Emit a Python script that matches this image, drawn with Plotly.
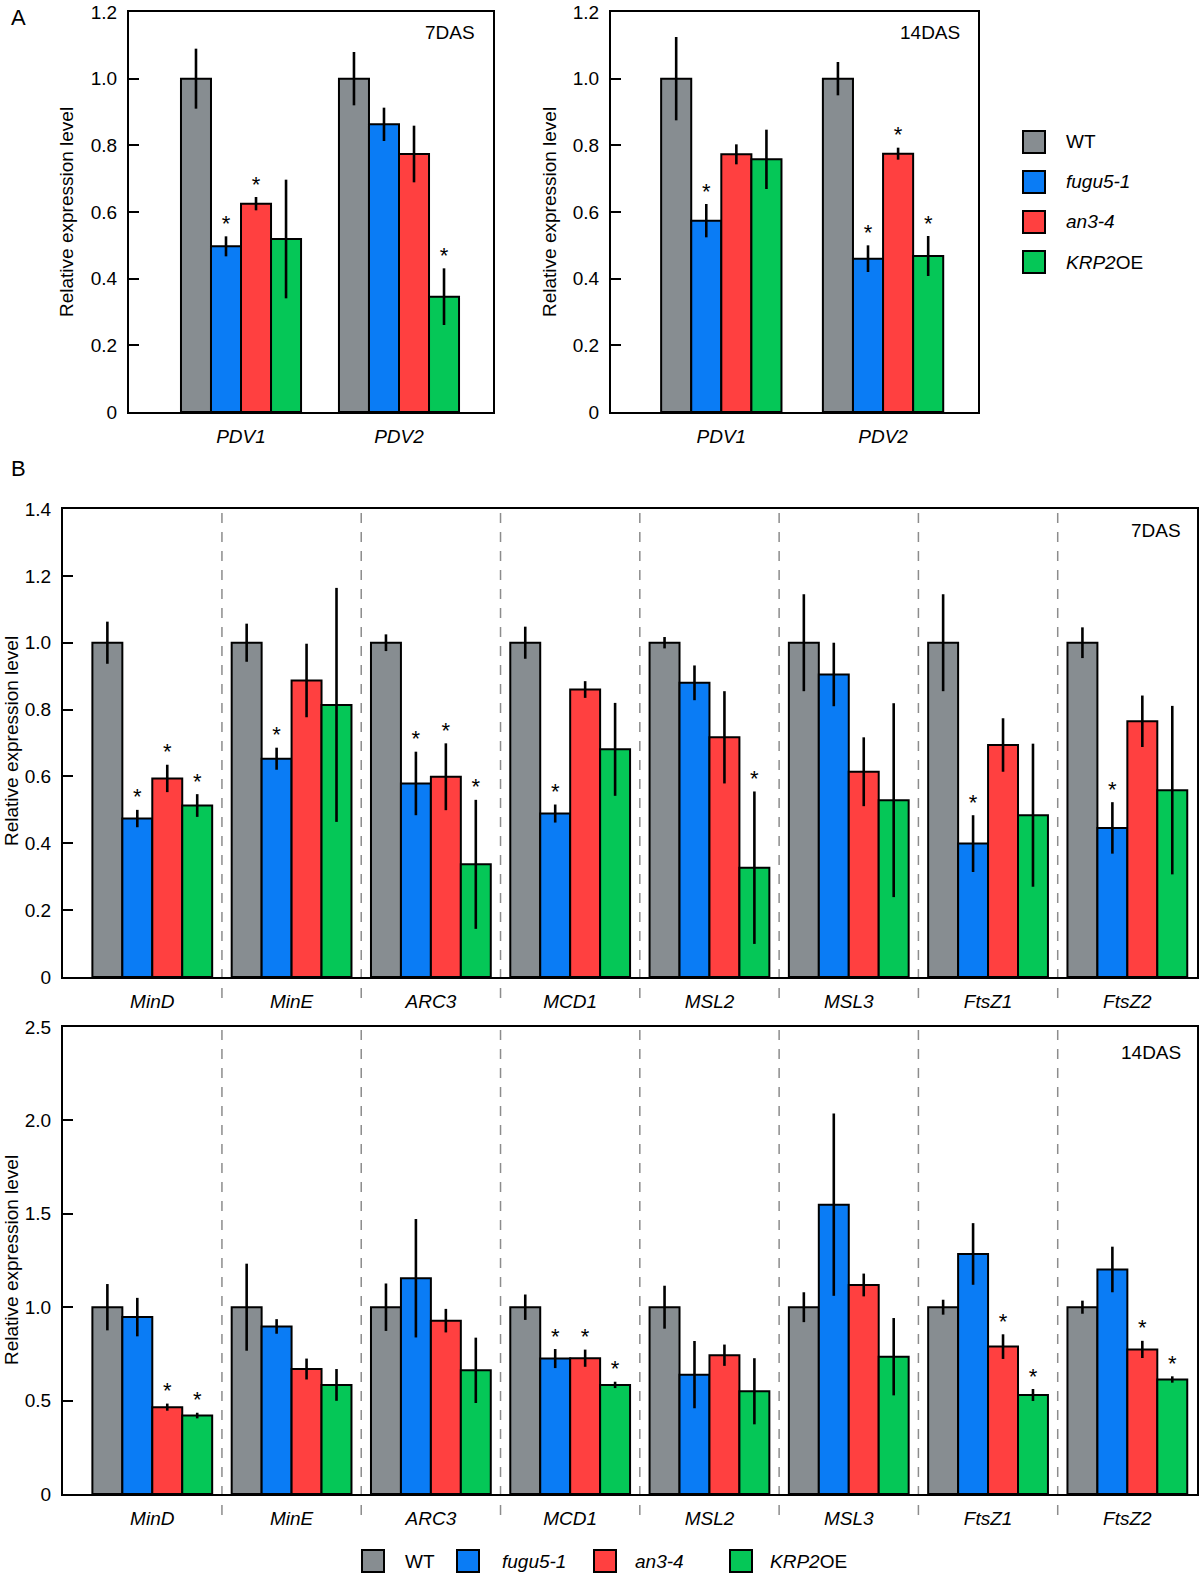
import plotly.graph_objects as go

# ---------------- data ----------------
genotypes = ["WT", "fugu5-1", "an3-4", "KRP2OE"]
legend_labels = ["WT", "<i>fugu5-1</i>", "<i>an3-4</i>", "<i>KRP2</i>OE"]
colors = ["#878D91", "#0A7CF5", "#FF4040", "#05C757"]

pdv_genes = ["PDV1", "PDV2"]
div_genes = ["MinD", "MinE", "ARC3", "MCD1", "MSL2", "MSL3", "FtsZ1", "FtsZ2"]

# Panel A, 7DAS
a7_mean = {"WT": [1.0, 1.0], "fugu5-1": [0.497, 0.863], "an3-4": [0.625, 0.774], "KRP2OE": [0.519, 0.346]}
a7_err = {"WT": [0.09, 0.08], "fugu5-1": [0.03, 0.05], "an3-4": [0.02, 0.085], "KRP2OE": [0.178, 0.085]}
a7_sig = {"WT": [0, 0], "fugu5-1": [1, 0], "an3-4": [1, 0], "KRP2OE": [0, 1]}

# Panel A, 14DAS
a14_mean = {"WT": [1.0, 1.0], "fugu5-1": [0.574, 0.46], "an3-4": [0.773, 0.775], "KRP2OE": [0.758, 0.468]}
a14_err = {"WT": [0.125, 0.05], "fugu5-1": [0.05, 0.04], "an3-4": [0.03, 0.018], "KRP2OE": [0.089, 0.06]}
a14_sig = {"WT": [0, 0], "fugu5-1": [1, 1], "an3-4": [0, 1], "KRP2OE": [0, 1]}

# Panel B, 7DAS
b7_mean = {
    "WT":      [1.0, 1.0, 1.0, 1.0, 1.0, 1.0, 1.0, 1.0],
    "fugu5-1": [0.474, 0.653, 0.579, 0.489, 0.88, 0.905, 0.399, 0.446],
    "an3-4":   [0.594, 0.887, 0.599, 0.86, 0.717, 0.614, 0.694, 0.765],
    "KRP2OE":  [0.513, 0.814, 0.337, 0.681, 0.327, 0.529, 0.484, 0.559],
}
b7_err = {
    "WT":      [0.063, 0.057, 0.025, 0.048, 0.017, 0.145, 0.145, 0.046],
    "fugu5-1": [0.026, 0.033, 0.095, 0.027, 0.052, 0.095, 0.085, 0.077],
    "an3-4":   [0.041, 0.11, 0.1, 0.025, 0.138, 0.103, 0.08, 0.077],
    "KRP2OE":  [0.034, 0.35, 0.193, 0.139, 0.228, 0.29, 0.214, 0.252],
}
b7_sig = {
    "WT":      [0, 0, 0, 0, 0, 0, 0, 0],
    "fugu5-1": [1, 1, 1, 1, 0, 0, 1, 1],
    "an3-4":   [1, 0, 1, 0, 0, 0, 0, 0],
    "KRP2OE":  [1, 0, 1, 0, 1, 0, 0, 0],
}

# Panel B, 14DAS
b14_mean = {
    "WT":      [1.0, 1.0, 1.0, 1.0, 1.0, 1.0, 1.0, 1.0],
    "fugu5-1": [0.947, 0.897, 1.155, 0.725, 0.639, 1.549, 1.285, 1.202],
    "an3-4":   [0.465, 0.669, 0.928, 0.727, 0.743, 1.119, 0.789, 0.774],
    "KRP2OE":  [0.42, 0.584, 0.662, 0.584, 0.55, 0.735, 0.53, 0.613],
}
b14_err = {
    "WT":      [0.124, 0.233, 0.127, 0.068, 0.115, 0.08, 0.04, 0.035],
    "fugu5-1": [0.103, 0.039, 0.317, 0.051, 0.18, 0.488, 0.165, 0.122],
    "an3-4":   [0.019, 0.056, 0.063, 0.046, 0.057, 0.061, 0.066, 0.046],
    "KRP2OE":  [0.015, 0.085, 0.175, 0.017, 0.177, 0.207, 0.032, 0.017],
}
b14_sig = {
    "WT":      [0, 0, 0, 0, 0, 0, 0, 0],
    "fugu5-1": [0, 0, 0, 1, 0, 0, 0, 0],
    "an3-4":   [1, 0, 0, 1, 0, 0, 1, 1],
    "KRP2OE":  [1, 0, 0, 1, 0, 0, 1, 1],
}

a_ticks = [0, 0.2, 0.4, 0.6, 0.8, 1.0, 1.2]
a_ticktext = ["0", "0.2", "0.4", "0.6", "0.8", "1.0", "1.2"]
b7_ticks = [0, 0.2, 0.4, 0.6, 0.8, 1.0, 1.2, 1.4]
b7_ticktext = ["0", "0.2", "0.4", "0.6", "0.8", "1.0", "1.2", "1.4"]
b14_ticks = [0, 0.5, 1.0, 1.5, 2.0, 2.5]
b14_ticktext = ["0", "0.5", "1.0", "1.5", "2.0", "2.5"]

# ---------------- layout helpers ----------------
W, H = 1200, 1575
FONT = "Liberation Sans, Arial, Helvetica, sans-serif"
TS = 19  # main text size


def px(x):
    return x / W


def py(y):
    return 1 - y / H


fig = go.Figure()


def add_panel(idx, genes, mean, err, sig, bw):
    xa = "x" if idx == 1 else f"x{idx}"
    ya = "y" if idx == 1 else f"y{idx}"
    xs = list(range(len(genes)))
    for k, g in enumerate(genotypes):
        off = -2 * bw + k * bw
        fig.add_trace(go.Bar(
            x=xs, y=mean[g], width=bw, offset=off,
            marker=dict(color=colors[k], line=dict(color="black", width=2)),
            error_y=dict(type="data", array=err[g], visible=True, color="black",
                         thickness=2.6, width=0),
            xaxis=xa, yaxis=ya, name=g, showlegend=False, hoverinfo="skip",
        ))
        sx = [x + off + bw / 2 for x, s in zip(xs, sig[g]) if s]
        sy = [m + e for m, e, s in zip(mean[g], err[g], sig[g]) if s]
        if sx:
            fig.add_trace(go.Scatter(
                x=sx, y=sy, mode="text", text=["*"] * len(sx),
                textposition="top center",
                textfont=dict(size=22, color="black", family=FONT),
                xaxis=xa, yaxis=ya, showlegend=False, hoverinfo="skip",
                cliponaxis=False,
            ))


add_panel(1, pdv_genes, a7_mean, a7_err, a7_sig, 0.19)
add_panel(2, pdv_genes, a14_mean, a14_err, a14_sig, 0.186)
add_panel(3, div_genes, b7_mean, b7_err, b7_sig, 0.215)
add_panel(4, div_genes, b14_mean, b14_err, b14_sig, 0.215)

axis_common = dict(showline=True, mirror=True, linecolor="black", linewidth=2,
                   showgrid=False, zeroline=False, automargin=False,
                   tickfont=dict(size=TS, color="black", family=FONT))

layout = dict(
    template="none",
    width=W, height=H, margin=dict(l=0, r=0, t=0, b=0, pad=0),
    plot_bgcolor="white", paper_bgcolor="white", showlegend=False,
    barmode="overlay", font=dict(family=FONT, color="black"),
)

panels = [
    # idx, x domain px, y domain px, x range, genes, yticks, yticktext, yrange
    (1, (129, 493), (12, 412), [-0.709, 1.595], pdv_genes, a_ticks, a_ticktext, [0, 1.2]),
    (2, (611, 978), (12, 412), [-0.682, 1.587], pdv_genes, a_ticks, a_ticktext, [0, 1.2]),
    (3, (63, 1197), (509, 977), [-0.641, 7.5], div_genes, b7_ticks, b7_ticktext, [0, 1.4]),
    (4, (63, 1197), (1027, 1494), [-0.641, 7.5], div_genes, b14_ticks, b14_ticktext, [0, 2.5]),
]
for idx, (x0, x1), (y0, y1), xr, genes, yt, ytt, yr in panels:
    xname = "xaxis" if idx == 1 else f"xaxis{idx}"
    yname = "yaxis" if idx == 1 else f"yaxis{idx}"
    ax = "x" if idx == 1 else f"x{idx}"
    ay = "y" if idx == 1 else f"y{idx}"
    layout[xname] = dict(axis_common, domain=[px(x0), px(x1)], range=xr, anchor=ay,
                         tickvals=list(range(len(genes))),
                         ticktext=[f"<i>{g}</i>" for g in genes],
                         ticks="", ticklabelstandoff=6)
    layout[yname] = dict(axis_common, domain=[py(y1), py(y0)], range=yr, anchor=ax,
                         tickvals=yt, ticktext=ytt, ticks="inside", ticklen=10,
                         tickwidth=2, tickcolor="black", ticklabelstandoff=6)

fig.update_layout(**layout)

# dashed separators in panel B
shapes = []
for ax_i in (3, 4):
    for i in range(len(div_genes) - 1):
        shapes.append(dict(type="line", xref=f"x{ax_i}", yref=f"y{ax_i} domain",
                           x0=i + 0.5, x1=i + 0.5, y0=-0.045, y1=1,
                           line=dict(color="#8C8C8C", width=1.5, dash="10px,9px"),
                           layer="below"))

annotations = []


def text_ann(txt, x, y, size=TS, xanchor="center", angle=0, yanchor="middle"):
    annotations.append(dict(text=txt, x=px(x), y=py(y), xref="paper", yref="paper",
                            showarrow=False, xanchor=xanchor, yanchor=yanchor,
                            textangle=angle,
                            font=dict(size=size, color="black", family=FONT)))


# panel letters
text_ann("A", 9, 17, size=22, xanchor="left")
text_ann("B", 9, 468, size=22, xanchor="left")
# stage labels
text_ann("7DAS", 477, 33, xanchor="right")
text_ann("14DAS", 962, 33, xanchor="right")
text_ann("7DAS", 1183, 530, xanchor="right")
text_ann("14DAS", 1183, 1052, xanchor="right")
# y-axis titles
ytitle = "Relative expression level"
text_ann(ytitle, 66, 212, size=TS, angle=-90)
text_ann(ytitle, 549, 212, size=TS, angle=-90)
text_ann(ytitle, 11, 741, size=TS, angle=-90)
text_ann(ytitle, 11, 1260, size=TS, angle=-90)

# legends (right of panel A, and under panel B)
right_legend_y = [142, 182, 222, 262]
for k in range(len(genotypes)):
    yc = right_legend_y[k]
    shapes.append(dict(type="rect", xref="paper", yref="paper",
                       x0=px(1023), x1=px(1045), y0=py(yc + 11), y1=py(yc - 11),
                       fillcolor=colors[k], line=dict(color="black", width=2)))
    text_ann(legend_labels[k], 1064, yc, size=TS, xanchor="left")

bottom_box_x = [362, 457, 594, 730]
bottom_text_x = [403, 500, 633, 768]
for k in range(len(genotypes)):
    yc = 1561
    shapes.append(dict(type="rect", xref="paper", yref="paper",
                       x0=px(bottom_box_x[k]), x1=px(bottom_box_x[k] + 22),
                       y0=py(yc + 11), y1=py(yc - 11),
                       fillcolor=colors[k], line=dict(color="black", width=2)))
    text_ann(legend_labels[k], bottom_text_x[k], yc, size=TS, xanchor="left")

fig.update_layout(shapes=shapes, annotations=annotations)

fig.write_html(
    "out.html",
    config={"displayModeBar": False},
    post_script="document.body.style.margin='0';document.body.style.padding='0';"
                "document.documentElement.style.overflow='hidden';",
)
